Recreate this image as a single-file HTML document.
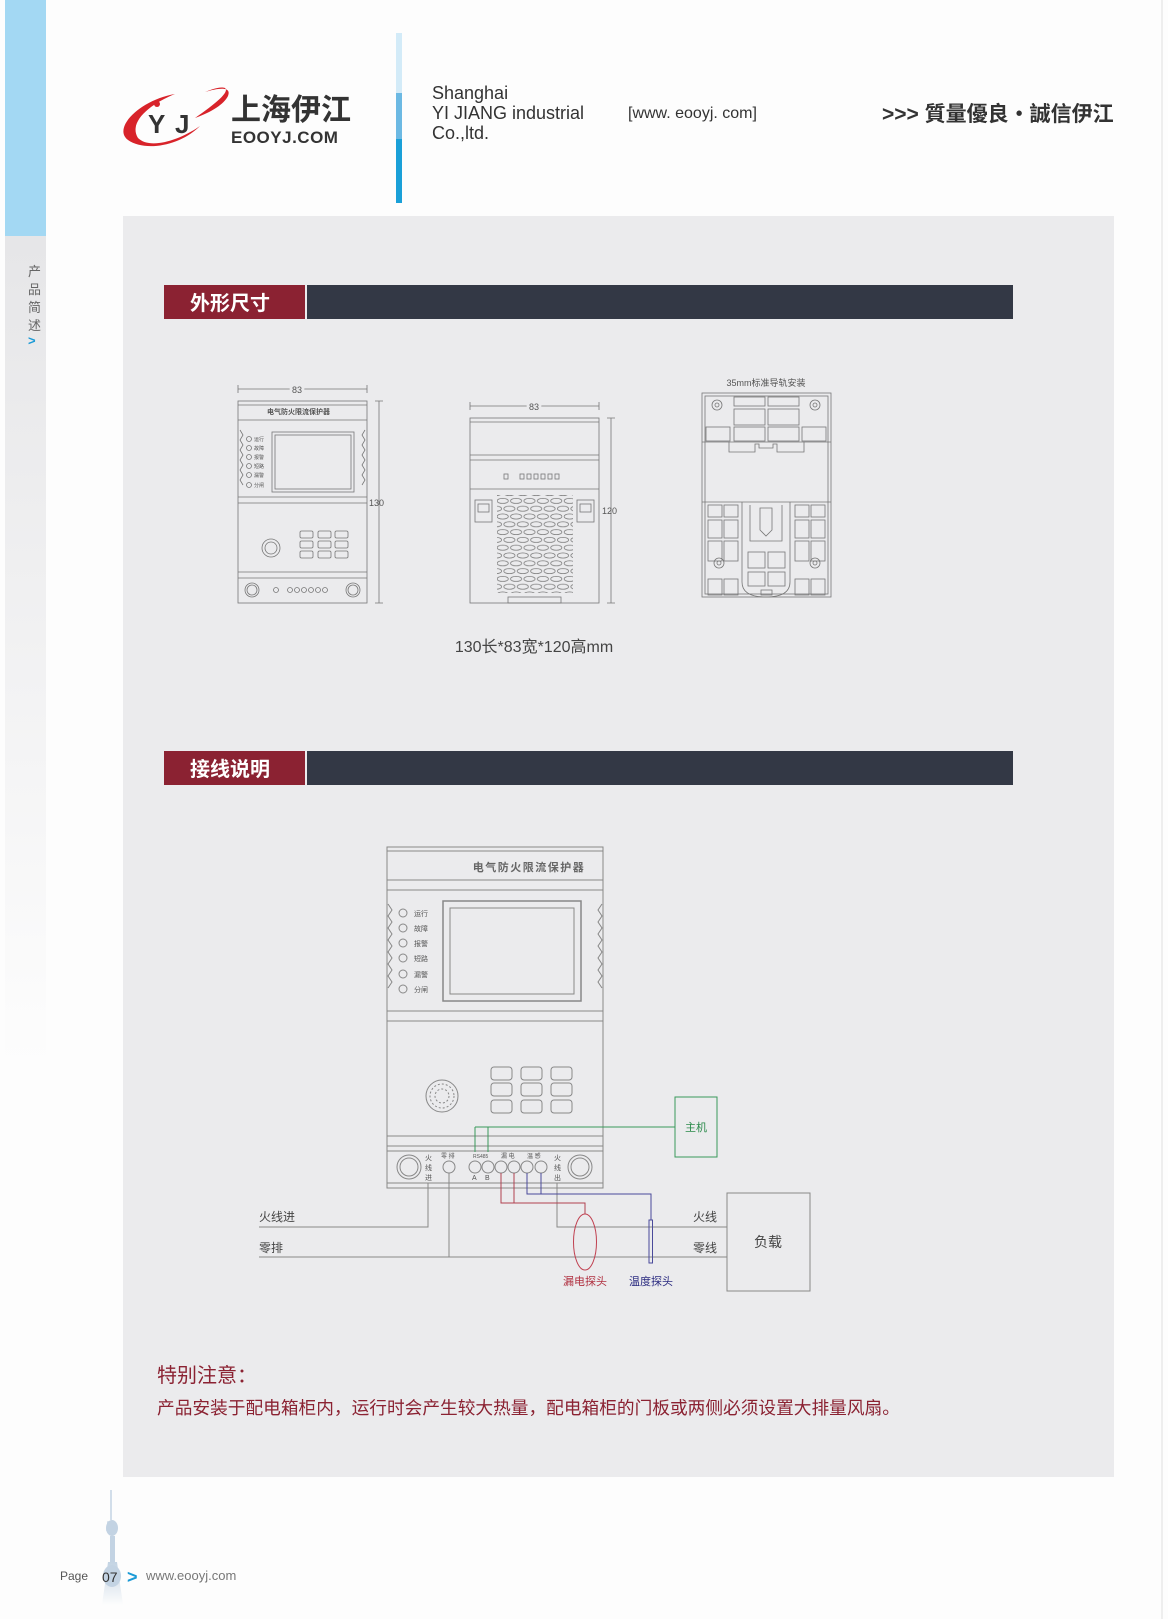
<!DOCTYPE html>
<html><head><meta charset="utf-8"><style>
html,body{margin:0;padding:0;background:#fdfdfd;}
svg{display:block;}
text{font-family:"Liberation Sans","Noto Sans CJK SC",sans-serif;}
</style></head><body>
<svg width="1168" height="1619" viewBox="0 0 1168 1619" xmlns="http://www.w3.org/2000/svg">
<defs>
<linearGradient id="sideg" x1="0" y1="0" x2="0" y2="1"><stop offset="0" stop-color="#e6e6e8"/><stop offset="1" stop-color="#fdfdfd"/></linearGradient>
<linearGradient id="towg" x1="0" y1="0" x2="0" y2="1"><stop offset="0" stop-color="#c3d3e3"/><stop offset="1" stop-color="#fdfdfd"/></linearGradient>
<pattern id="ov" x="496" y="497" width="13.4" height="15.6" patternUnits="userSpaceOnUse">
<ellipse cx="6.7" cy="3.9" rx="5.6" ry="2.6" fill="none" stroke="#777" stroke-width="0.7"/>
<ellipse cx="0" cy="11.7" rx="5.6" ry="2.6" fill="none" stroke="#777" stroke-width="0.7"/>
<ellipse cx="13.4" cy="11.7" rx="5.6" ry="2.6" fill="none" stroke="#777" stroke-width="0.7"/>
</pattern>
</defs>
<rect width="1168" height="1619" fill="#fdfdfd"/>
<rect x="5" y="0" width="41" height="236" fill="#a3d8f3"/>
<rect x="5" y="236" width="41" height="830" fill="url(#sideg)"/>
<rect x="1161" y="0" width="2" height="1619" fill="#eeeeee"/>
<g font-size="13" fill="#666">
<text x="28" y="276">产</text><text x="28" y="294">品</text><text x="28" y="312">简</text><text x="28" y="330">述</text>
</g>
<text x="28" y="345" font-size="13" fill="#1a9ad6" font-weight="bold">&gt;</text>
<path d="M128 140 C112 128 140 100 175 94 C150 104 128 122 138 138 C150 150 180 140 200 126 C180 146 145 152 128 140 Z" fill="#d8232a"/>
<path d="M195 118 C215 104 230 92 225 88 C220 86 210 90 205 92 C218 88 232 86 228 96 C224 104 212 112 195 118 Z" fill="#d8232a"/>
<text x="148" y="133" font-size="26" fill="#333" font-weight="bold">Y</text>
<text x="175" y="133" font-size="26" fill="#333" font-weight="bold">J</text>
<circle cx="157" cy="104" r="3" fill="#d8232a"/>
<text x="231" y="120" font-size="30" fill="#333" font-weight="bold">上海伊江</text>
<text x="231" y="143" font-size="17" fill="#333" font-weight="bold" letter-spacing="0.5">EOOYJ.COM</text>
<rect x="396" y="33" width="6" height="60" fill="#d3ebf8"/>
<rect x="396" y="93" width="6" height="46" fill="#6cb9e3"/>
<rect x="396" y="139" width="6" height="64" fill="#1aa0d8"/>
<g font-size="18" fill="#333">
<text x="432" y="99">Shanghai</text>
<text x="432" y="119">YI JIANG industrial</text>
<text x="432" y="139">Co.,ltd.</text>
<text x="628" y="118" font-size="16">[www. eooyj. com]</text>
</g>
<text x="882" y="121" font-size="21" fill="#333" font-weight="bold">&gt;&gt;&gt; 質量優良・誠信伊江</text>
<rect x="123" y="216" width="991" height="1261" fill="#ebebed"/>
<rect x="164" y="285" width="141" height="34" fill="#8b2232"/>
<rect x="307" y="285" width="706" height="34" fill="#333845"/>
<text x="190" y="310" font-size="20" fill="#fff" font-weight="bold">外形尺寸</text>
<rect x="164" y="751" width="141" height="34" fill="#8b2232"/>
<rect x="307" y="751" width="706" height="34" fill="#333845"/>
<text x="190" y="776" font-size="20" fill="#fff" font-weight="bold">接线说明</text>

<g fill="none" stroke="#777" stroke-width="0.8">
<path d="M238 389 H367 M238 385 V393 M367 385 V393"/>
<rect x="238" y="401" width="129" height="202"/>
<path d="M238 405 H367 M238 420 H367 M238 497 H367 M238 503 H367 M238 572 H367 M238 578 H367"/>
<path d="M379 401 V603 M375 401 H383 M375 603 H383"/>
<rect x="272" y="432" width="82" height="60"/><rect x="275" y="435" width="76" height="54"/>
<circle cx="249" cy="439" r="2.5"/><circle cx="249" cy="448" r="2.5"/><circle cx="249" cy="457" r="2.5"/><circle cx="249" cy="466" r="2.5"/><circle cx="249" cy="475" r="2.5"/><circle cx="249" cy="485" r="2.5"/>
<circle cx="271" cy="548" r="9"/><circle cx="271" cy="548" r="6"/>
<rect x="300" y="531" width="13" height="7" rx="1.5"/><rect x="318" y="531" width="13" height="7" rx="1.5"/><rect x="335" y="531" width="13" height="7" rx="1.5"/>
<rect x="300" y="541" width="13" height="7" rx="1.5"/><rect x="318" y="541" width="13" height="7" rx="1.5"/><rect x="335" y="541" width="13" height="7" rx="1.5"/>
<rect x="300" y="551" width="13" height="7" rx="1.5"/><rect x="318" y="551" width="13" height="7" rx="1.5"/><rect x="335" y="551" width="13" height="7" rx="1.5"/>
<circle cx="252" cy="590" r="7"/><circle cx="252" cy="590" r="5"/><circle cx="353" cy="590" r="7"/><circle cx="353" cy="590" r="5"/>
<circle cx="276" cy="590" r="2.5"/><circle cx="290" cy="590" r="2.5"/><circle cx="297" cy="590" r="2.5"/><circle cx="304" cy="590" r="2.5"/><circle cx="311" cy="590" r="2.5"/><circle cx="318" cy="590" r="2.5"/><circle cx="325" cy="590" r="2.5"/>
<path d="M240 430 l3 5 l-3 5 l3 5 l-3 5 l3 5 l-3 5 l3 5 l-3 5 l3 5 l-3 5 l3 5 M365 430 l-3 5 l3 5 l-3 5 l3 5 l-3 5 l3 5 l-3 5 l3 5 l-3 5 l3 5 l-3 5"/>
<path d="M470 406 H599 M470 402 V410 M599 402 V410"/>
<rect x="470" y="418" width="129" height="185"/>
<path d="M470 422 H599 M470 455 H599 M470 460 H599 M470 489 H599"/>
<path d="M611 418 V603 M607 418 H615 M607 603 H615"/>
<rect x="504" y="474" width="4" height="5"/>
<rect x="520" y="474" width="4" height="5"/><rect x="527" y="474" width="4" height="5"/><rect x="534" y="474" width="4" height="5"/><rect x="541" y="474" width="4" height="5"/><rect x="548" y="474" width="4" height="5"/><rect x="555" y="474" width="4" height="5"/>
<rect x="475" y="500" width="17" height="22"/><rect x="478" y="504" width="11" height="8"/>
<rect x="577" y="500" width="17" height="22"/><rect x="580" y="504" width="11" height="8"/>
<rect x="508" y="597" width="53" height="6"/>
</g>
<rect x="497" y="495" width="76" height="98" fill="url(#ov)"/>
<g fill="none" stroke="#777" stroke-width="0.8">
<rect x="702" y="393" width="129" height="204"/>
<rect x="705" y="396" width="123" height="198"/>
<path d="M702 442 H831 M702 502 H831"/>
<circle cx="717" cy="405" r="5"/><circle cx="717" cy="405" r="2"/><circle cx="815" cy="405" r="5"/><circle cx="815" cy="405" r="2"/>
<rect x="734" y="397" width="31" height="9"/><rect x="768" y="397" width="31" height="9"/>
<rect x="734" y="409" width="31" height="16"/><rect x="768" y="409" width="31" height="16"/>
<rect x="706" y="427" width="24" height="14"/><rect x="734" y="427" width="31" height="14"/><rect x="768" y="427" width="31" height="14"/><rect x="802" y="427" width="24" height="14"/>
<path d="M729 442 v10 h26 v-8 h4 v4 h14 v-4 h4 v8 h27 v-10"/>
<rect x="708" y="505" width="14" height="12"/><rect x="724" y="505" width="14" height="12"/><rect x="795" y="505" width="14" height="12"/><rect x="811" y="505" width="14" height="12"/>
<rect x="708" y="520" width="14" height="18"/><rect x="724" y="520" width="14" height="18"/><rect x="795" y="520" width="14" height="18"/><rect x="811" y="520" width="14" height="18"/>
<rect x="708" y="541" width="14" height="20"/><rect x="795" y="541" width="14" height="20"/><rect x="811" y="541" width="14" height="20"/><rect x="724" y="541" width="14" height="20"/>
<rect x="708" y="579" width="14" height="16"/><rect x="724" y="579" width="14" height="16"/><rect x="795" y="579" width="14" height="16"/><rect x="811" y="579" width="14" height="16"/>
<circle cx="719" cy="563" r="5"/><circle cx="719" cy="563" r="2"/><circle cx="815" cy="563" r="5"/><circle cx="815" cy="563" r="2"/>
<path d="M742 502 v80 q0 15 24 15 q24 0 24 -15 v-80"/>
<path d="M750 505 v36 h32 v-36 M760 508 h12 v22 l-6 6 l-6 -6 z"/>
<rect x="748" y="552" width="17" height="16"/><rect x="768" y="552" width="17" height="16"/>
<rect x="748" y="572" width="17" height="14"/><rect x="768" y="572" width="17" height="14"/>
<rect x="761" y="590" width="11" height="5"/>
</g>
<g font-size="9" fill="#555">
<text x="297" y="393" text-anchor="middle" fill="#555" style="paint-order:stroke" stroke="#ebebed" stroke-width="6">83</text>
<text x="369" y="506">130</text>
<text x="534" y="410" text-anchor="middle" stroke="#ebebed" stroke-width="6" style="paint-order:stroke">83</text>
<text x="602" y="514">120</text>
<text x="766" y="386" text-anchor="middle">35mm标准导轨安装</text>
<text x="330" y="414" font-size="7" text-anchor="end" font-weight="bold">电气防火限流保护器</text>
</g>
<g font-size="5" fill="#555">
<text x="254" y="441">运行</text><text x="254" y="450">故障</text><text x="254" y="459">报警</text><text x="254" y="468">短路</text><text x="254" y="477">漏警</text><text x="254" y="487">分闸</text>
</g>
<text x="534" y="652" font-size="16" fill="#444" text-anchor="middle">130长*83宽*120高mm</text>

<g fill="none" stroke="#888" stroke-width="1">
<rect x="387" y="847" width="216" height="341"/>
<path d="M387 851 H603 M387 880 H603 M387 890 H603 M387 1011 H603 M387 1021 H603 M387 1136 H603 M387 1146 H603 M387 1151 H603 M387 1183 H603"/>
<rect x="443" y="901" width="138" height="100" stroke-width="1.5"/>
<rect x="450" y="908" width="124" height="86"/>
<circle cx="403" cy="913" r="4"/><circle cx="403" cy="928" r="4"/><circle cx="403" cy="943" r="4"/><circle cx="403" cy="958" r="4"/><circle cx="403" cy="974" r="4"/><circle cx="403" cy="989" r="4"/>
<path d="M388 904 l4 6 l-4 6 l4 6 l-4 6 l4 6 l-4 6 l4 6 l-4 6 l4 6 l-4 6 l4 6 l-4 6 l4 6 l-4 6 M602 904 l-4 6 l4 6 l-4 6 l4 6 l-4 6 l4 6 l-4 6 l4 6 l-4 6 l4 6 l-4 6 l4 6 l-4 6 l4 6"/>
<circle cx="442" cy="1096" r="16"/><circle cx="442" cy="1096" r="12" stroke-dasharray="2 2"/><circle cx="442" cy="1096" r="7" stroke-dasharray="2 2"/>
<rect x="491" y="1067" width="21" height="13" rx="3"/><rect x="521" y="1067" width="21" height="13" rx="3"/><rect x="551" y="1067" width="21" height="13" rx="3"/>
<rect x="491" y="1083" width="21" height="13" rx="3"/><rect x="521" y="1083" width="21" height="13" rx="3"/><rect x="551" y="1083" width="21" height="13" rx="3"/>
<rect x="491" y="1100" width="21" height="13" rx="3"/><rect x="521" y="1100" width="21" height="13" rx="3"/><rect x="551" y="1100" width="21" height="13" rx="3"/>
<circle cx="409" cy="1167" r="12"/><circle cx="409" cy="1167" r="9"/>
<circle cx="580" cy="1167" r="12"/><circle cx="580" cy="1167" r="9"/>
<circle cx="449" cy="1167" r="6"/><circle cx="475" cy="1167" r="6"/><circle cx="488" cy="1167" r="6"/><circle cx="501" cy="1167" r="6"/><circle cx="514" cy="1167" r="6"/><circle cx="527" cy="1167" r="6"/><circle cx="541" cy="1167" r="6"/>
<path d="M428 1183 V1227 H259 M449 1173 V1257 M259 1257 H727 M557 1183 V1227 H727"/>
<rect x="727" y="1193" width="83" height="98"/>
</g>
<text x="529" y="871" font-size="11" fill="#666" text-anchor="middle" font-weight="bold" letter-spacing="1.5">电气防火限流保护器</text>
<g font-size="7" fill="#555">
<text x="414" y="916">运行</text><text x="414" y="931">故障</text><text x="414" y="946">报警</text><text x="414" y="961">短路</text><text x="414" y="977">漏警</text><text x="414" y="992">分闸</text>
<text x="425" y="1160">火</text><text x="425" y="1170">线</text><text x="425" y="1180">进</text>
<text x="554" y="1160">火</text><text x="554" y="1170">线</text><text x="554" y="1180">出</text>
<text x="441" y="1158" font-size="6">零 排</text>
<text x="473" y="1158" font-size="5">RS485</text>
<text x="501" y="1158" font-size="6">漏 电</text>
<text x="527" y="1158" font-size="6">温 感</text>
<text x="472" y="1180">A</text><text x="485" y="1180">B</text>
</g>
<path d="M475 1152 V1127 M488 1152 V1127 M475 1127 H675" fill="none" stroke="#3a9a5a" stroke-width="1"/>
<rect x="675" y="1097" width="42" height="60" fill="none" stroke="#3a9a5a" stroke-width="1"/>
<text x="696" y="1131" font-size="11" fill="#2a8a4a" text-anchor="middle">主机</text>
<path d="M501 1173 V1203 H585 V1214 M514 1173 V1203" fill="none" stroke="#b04050" stroke-width="1"/>
<ellipse cx="585" cy="1242" rx="11.5" ry="28" fill="none" stroke="#c04050" stroke-width="1"/>
<path d="M527 1173 V1194 H651 V1220 M541 1173 V1194" fill="none" stroke="#4a4a9a" stroke-width="1"/>
<rect x="649" y="1220" width="3.5" height="43" fill="none" stroke="#4a4a9a" stroke-width="1"/>
<g font-size="12" fill="#444">
<text x="259" y="1221">火线进</text>
<text x="259" y="1252">零排</text>
<text x="693" y="1221">火线</text>
<text x="693" y="1252">零线</text>
<text x="768" y="1247" font-size="14" text-anchor="middle">负载</text>
</g>
<text x="585" y="1285" font-size="11" fill="#b03040" text-anchor="middle">漏电探头</text>
<text x="651" y="1285" font-size="11" fill="#2a2a80" text-anchor="middle">温度探头</text>
<text x="157" y="1382" font-size="20" fill="#8b2232">特别注意：</text>
<text x="157" y="1414" font-size="17.7" fill="#8b2232">产品安装于配电箱柜内，运行时会产生较大热量，配电箱柜的门板或两侧必须设置大排量风扇。</text>
<path d="M111 1490 V1520 M108 1522 h6 l1 8 h-8 z" fill="none" stroke="#c3d3e3" stroke-width="1.5"/>
<ellipse cx="112" cy="1528" rx="6" ry="8" fill="#c3d3e3"/>
<rect x="110" y="1536" width="5" height="30" fill="#c3d3e3"/>
<path d="M102 1605 L108 1562 H117 L123 1605 Z" fill="url(#towg)"/>
<ellipse cx="112" cy="1576" rx="9" ry="11" fill="#c3d3e3"/>
<text x="60" y="1580" font-size="12" fill="#555">Page</text>
<text x="102" y="1582" font-size="14" fill="#333">07</text>
<text x="127" y="1583" font-size="18" fill="#1a9ad6" font-weight="bold">&gt;</text>
<text x="146" y="1580" font-size="13" fill="#777">www.eooyj.com</text>
</svg>
</body></html>
